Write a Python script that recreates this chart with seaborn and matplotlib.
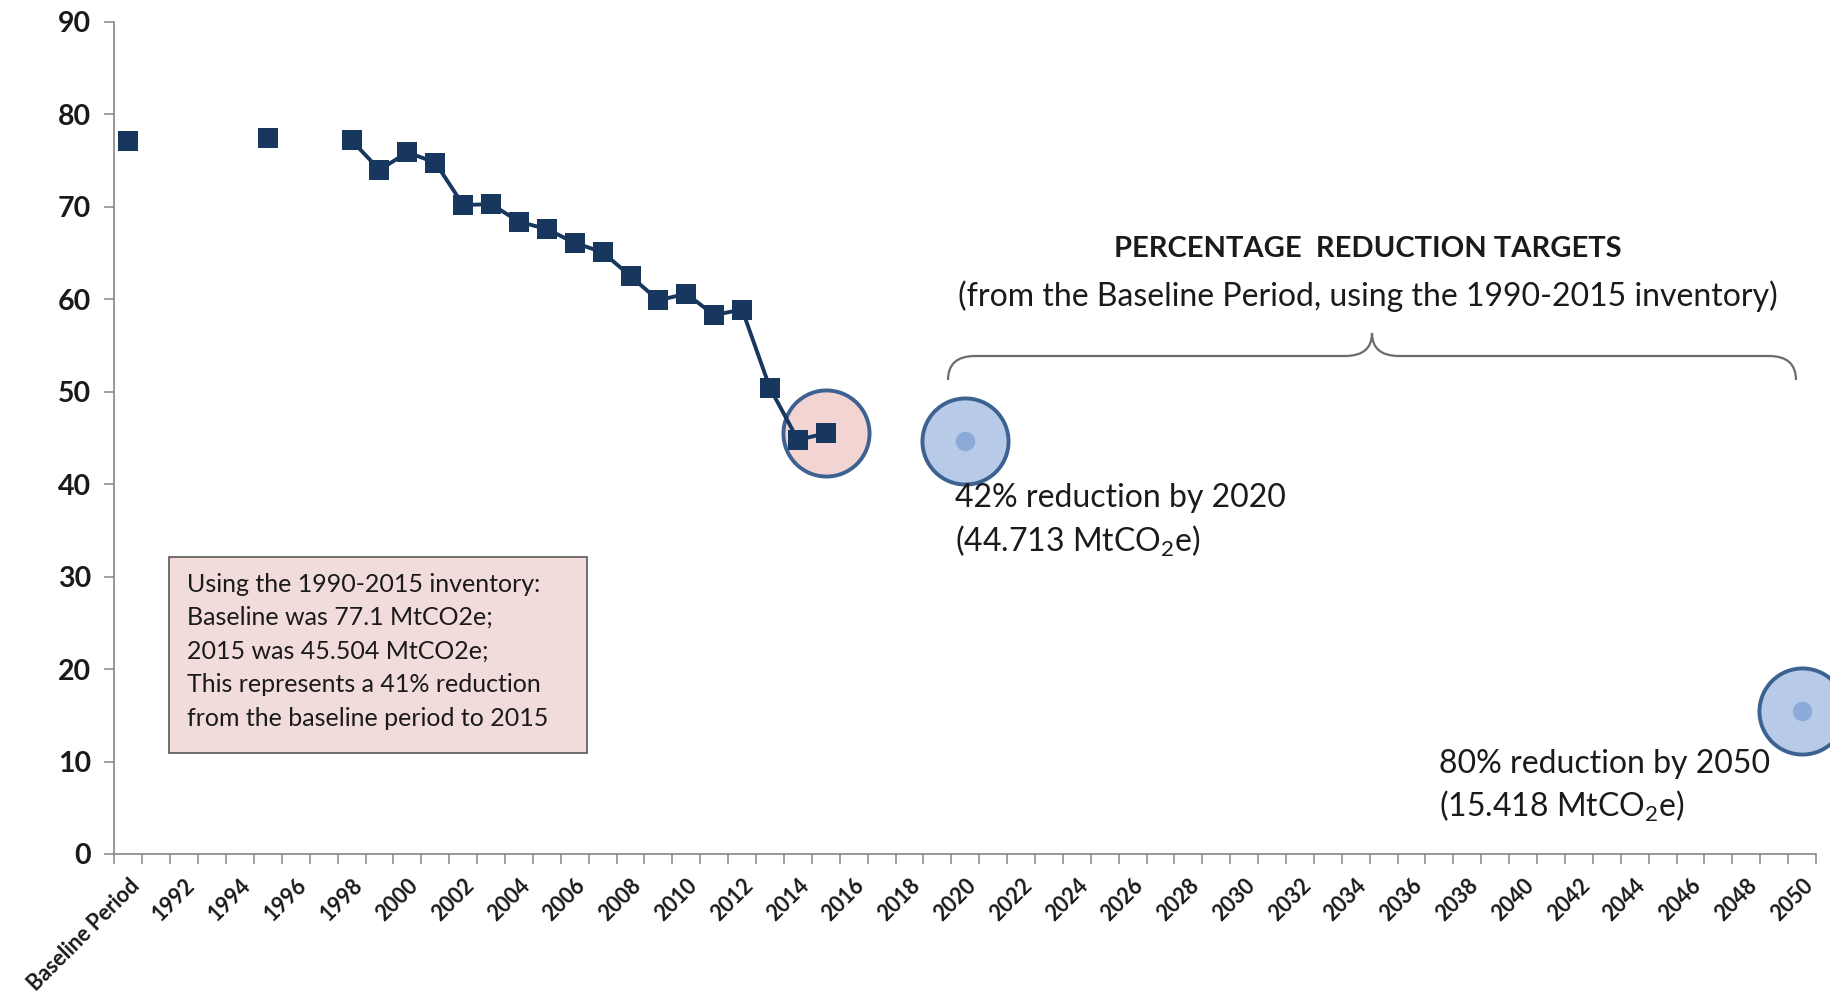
import numpy as np
import pandas as pd
import matplotlib
matplotlib.use("Agg")
import matplotlib.pyplot as plt
from matplotlib.path import Path
from matplotlib.patches import PathPatch, Rectangle
import seaborn as sns

# ---------------- data ----------------
categories = ["Baseline Period"] + [str(y) for y in range(1991, 2051)]

emission_labels = ["Baseline Period", "1995", "1998", "1999", "2000", "2001", "2002",
                   "2003", "2004", "2005", "2006", "2007", "2008", "2009", "2010",
                   "2011", "2012", "2013", "2014", "2015"]
emission_values = [77.1, 77.5, 77.2, 74.0, 75.9, 74.8, 70.2, 70.3, 68.4, 67.6,
                   66.1, 65.1, 62.5, 59.9, 60.6, 58.3, 58.9, 50.4, 44.8, 45.504]

highlight_labels = ["2015"]
highlight_values = [45.504]

target_labels = ["2020", "2050"]
target_values = [44.713, 15.418]

y_ticks = [0, 10, 20, 30, 40, 50, 60, 70, 80, 90]

box_lines = ["Using the 1990-2015 inventory:",
             "Baseline was 77.1 MtCO2e;",
             "2015 was 45.504 MtCO2e;",
             "This represents a 41% reduction",
             "from the baseline period to 2015"]

# ---------------- style ----------------
sns.set_theme(style="white")
plt.rcParams["font.family"] = ["Lato", "DejaVu Sans"]
plt.rcParams["mathtext.fontset"] = "custom"
plt.rcParams["mathtext.rm"] = "Lato"
plt.rcParams["mathtext.it"] = "Lato:italic"
plt.rcParams["mathtext.bf"] = "Lato:bold"

NAVY = "#17375e"
AXIS_GREY = "#868686"
CIRCLE_EDGE = "#3d6190"
BLUE_FILL = "#b7cbe8"
PINK_FILL = "#f2d5d3"
DOT = "#8caad8"
TXT = "#1a1a1a"

idx = {c: i for i, c in enumerate(categories)}
df = pd.DataFrame({"label": emission_labels, "value": emission_values})
df["x"] = df["label"].map(idx)
df["seg"] = (df["x"].diff().fillna(1) != 1).cumsum()
line_df = df[df.groupby("seg")["x"].transform("size") > 1]

hl = pd.DataFrame({"x": [idx[l] for l in highlight_labels], "value": highlight_values})
tg = pd.DataFrame({"x": [idx[l] for l in target_labels], "value": target_values})

W, H = 1831, 1000
fig = plt.figure(figsize=(W / 100, H / 100), dpi=100)
ax = fig.add_axes([114.5 / W, 0.146, (1816 - 114.5) / W, 0.832])

# highlight circle (behind squares)
sns.scatterplot(data=hl, x="x", y="value", ax=ax, s=62 ** 2, marker="o",
                color=PINK_FILL, edgecolor=CIRCLE_EDGE, linewidth=2.8,
                legend=False, zorder=2, clip_on=False)
# connected line
sns.lineplot(data=line_df, x="x", y="value", units="seg", estimator=None,
             ax=ax, color=NAVY, linewidth=2.8, legend=False, zorder=3)
# squares
sns.scatterplot(data=df, x="x", y="value", ax=ax, marker="s", s=15 ** 2,
                color=NAVY, edgecolor=NAVY, linewidth=0, legend=False, zorder=4)
# target circles
sns.scatterplot(data=tg, x="x", y="value", ax=ax, s=62 ** 2, marker="o",
                color=BLUE_FILL, edgecolor=CIRCLE_EDGE, linewidth=2.8,
                legend=False, zorder=2, clip_on=False)
sns.scatterplot(data=tg, x="x", y="value", ax=ax, s=14 ** 2, marker="o",
                color=DOT, linewidth=0, legend=False, zorder=3, clip_on=False)

# ---------------- axes ----------------
ax.set_xlim(-0.5, len(categories) - 0.5)
ax.set_ylim(0, 90)
ax.set_xlabel("")
ax.set_ylabel("")
for s in ["top", "right"]:
    ax.spines[s].set_visible(False)
for s in ["left", "bottom"]:
    ax.spines[s].set_color(AXIS_GREY)
    ax.spines[s].set_linewidth(1.2)

ax.set_yticks(y_ticks)
ax.set_yticklabels([str(t) for t in y_ticks], fontsize=20.5, fontweight="bold", color=TXT)
ax.tick_params(axis="y", length=7, width=1.1, color=AXIS_GREY, pad=10, left=True)

major = list(range(0, len(categories), 2))
ax.set_xticks(major)
ax.set_xticklabels([categories[i] for i in major], rotation=45, ha="right",
                   rotation_mode="anchor", fontsize=15.5, fontweight="bold", color=TXT)
ax.set_xticks(np.arange(-0.5, len(categories), 1), minor=True)
ax.tick_params(axis="x", which="major", length=0, pad=15, bottom=True)
ax.tick_params(axis="x", which="minor", length=7, width=1.1, color=AXIS_GREY, bottom=True)

# ---------------- annotations ----------------
def fx(px):
    return px / W

def fy(py):
    return 1 - py / H

fig.text(fx(1368), fy(249), "PERCENTAGE  REDUCTION TARGETS", ha="center", va="center",
         fontsize=21, fontweight="bold", color=TXT)
fig.text(fx(1368), fy(296), "(from the Baseline Period, using the 1990-2015 inventory)",
         ha="center", va="center", fontsize=23, color=TXT)

fig.text(fx(955), fy(498), "42% reduction by 2020", ha="left", va="center",
         fontsize=23, color=TXT)
fig.text(fx(955), fy(541), "(44.713 MtCO$_2$e)", ha="left", va="center",
         fontsize=23, color=TXT)
fig.text(fx(1439), fy(764), "80% reduction by 2050", ha="left", va="center",
         fontsize=23, color=TXT)
fig.text(fx(1439), fy(806), "(15.418 MtCO$_2$e)", ha="left", va="center",
         fontsize=23, color=TXT)

# curly brace
pts = [(948, 380), (948, 356), (975, 356), (1345, 356), (1372, 356), (1372, 333),
       (1372, 356), (1399, 356), (1769, 356), (1796, 356), (1796, 380)]
codes = [Path.MOVETO, Path.CURVE3, Path.CURVE3, Path.LINETO, Path.CURVE3, Path.CURVE3,
         Path.CURVE3, Path.CURVE3, Path.LINETO, Path.CURVE3, Path.CURVE3]
brace = Path([(fx(x), fy(y)) for x, y in pts], codes)
fig.patches.append(PathPatch(brace, transform=fig.transFigure, facecolor="none",
                             edgecolor="#6b6b6b", linewidth=1.6))

# info box
fig.patches.append(Rectangle((fx(169), fy(753)), fx(587) - fx(169), fy(557) - fy(753),
                             transform=fig.transFigure, facecolor="#f2dcdb",
                             edgecolor="#595959", linewidth=1.2))
for i, line in enumerate(box_lines):
    fig.text(fx(187), fy(584 + 33.5 * i), line, ha="left", va="center",
             fontsize=18, color=TXT)

fig.savefig("out.png", dpi=100)
